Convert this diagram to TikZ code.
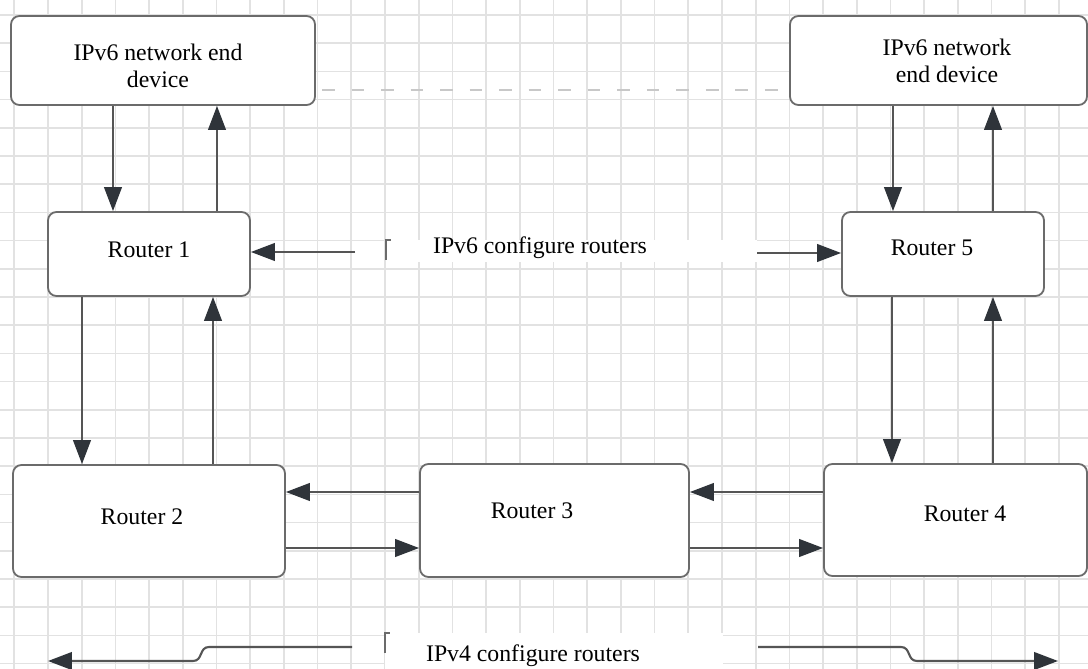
\documentclass[tikz,border=0pt]{standalone}
\usepackage{fontspec}
\setmainfont{Liberation Serif}
\usepackage{tikz}
\usetikzlibrary{arrows.meta,fit}
\definecolor{gridc}{HTML}{E2E2E2}
\definecolor{boxc}{HTML}{6B6B6B}
\definecolor{linec}{HTML}{555555}
\definecolor{headc}{HTML}{2F343A}
\definecolor{dashc}{HTML}{C8C8C8}
\tikzset{
  box/.style={draw=boxc, line width=1.3pt, rounded corners=6pt, fill=white, inner sep=0pt},
  lbl/.style={font=\rmfamily\fontsize{16.9}{19.5}\selectfont, align=center, inner sep=0pt},
  link/.style={draw=linec, line width=1.5pt, -{Triangle[length=17pt,width=12.5pt,color=headc]}},
  gridline/.style={gridc, line width=1.2pt},
  tick/.style={draw=boxc, line width=0.9pt},
}

\begin{document}
\begin{tikzpicture}[x=0.025cm,y=-0.025cm]
  \useasboundingbox[fill=white] (0,0) rectangle (1088,669);
  \foreach \i in {0,...,31} {\draw[gridline] ({14.3+33.7*\i},0) -- ({14.3+33.7*\i},669);}
  \foreach \j in {0,...,23} {\draw[gridline] (0,{15+28.2*\j}) -- (1088,{15+28.2*\j});}
  \fill[white] (386,240) rectangle (757,262);
  \fill[white] (385,633) rectangle (723,669);
  \draw[tick] (386,260) -- (386,240) -- (391,240);
  \draw[tick] (385,653) -- (385,633) -- (390,633);

  \node[box, fit={(11,16) (315,105)}] (dev1) {};
  \node[box, fit={(790,16) (1087,105)}] (dev2) {};
  \node[box, fit={(48,212) (250,296)}] (r1) {};
  \node[box, fit={(842,212) (1044,296)}] (r5) {};
  \node[box, fit={(13,465) (285,577)}] (r2) {};
  \node[box, fit={(420,464) (689,577)}] (r3) {};
  \node[box, fit={(824,464) (1087,576)}] (r4) {};

  \node[lbl] (dev1txt) at (158,66) {IPv6 network end\\device};
  \node[lbl] (dev2txt) at (947,61) {IPv6 network\\end device};
  \node[lbl] (r1txt) at (149,250) {Router 1};
  \node[lbl] (r2txt) at (142,517) {Router 2};
  \node[lbl] (r3txt) at (532,511) {Router 3};
  \node[lbl] (r4txt) at (965,514) {Router 4};
  \node[lbl] (r5txt) at (932,248) {Router 5};
  \node[lbl] (v6txt) at (540,248) {IPv6 configure routers};
  \node[lbl] (v4txt) at (533,656) {IPv4 configure routers};

  \draw[dashc, line width=1.3pt, dash pattern=on 9pt off 12pt] (322,0 |- 0,90) -- (dev2.west |- 0,90);

  \draw[link] (113,0 |- dev1.south) -- (113,0 |- r1.north);
  \draw[link] (217,0 |- r1.north) -- (217,0 |- dev1.south);
  \draw[link] (893,0 |- dev2.south) -- (893,0 |- r5.north);
  \draw[link] (993,0 |- r5.north) -- (993,0 |- dev2.south);
  \draw[link] (82,0 |- r1.south) -- (82,0 |- r2.north);
  \draw[link] (213,0 |- r2.north) -- (213,0 |- r1.south);
  \draw[link] (892,0 |- r5.south) -- (892,0 |- r4.north);
  \draw[link] (993,0 |- r4.north) -- (993,0 |- r5.south);

  \draw[link] (r3.west |- 0,492) -- (r2.east |- 0,492);
  \draw[link] (r2.east |- 0,548) -- (r3.west |- 0,548);
  \draw[link] (r4.west |- 0,492) -- (r3.east |- 0,492);
  \draw[link] (r3.east |- 0,548) -- (r4.west |- 0,548);

  \coordinate (v6l) at (355,252);
  \coordinate (v6r) at (757,253);
  \draw[link] (v6l) -- (r1.east |- v6l);
  \draw[link] (v6r) -- (r5.west |- v6r);

  \coordinate (v4l) at (352,647);
  \coordinate (v4lend) at (48,661);
  \coordinate (v4r) at (758,647);
  \coordinate (v4rend) at (1058,661);
  \draw[link] (v4l) -- (209,647) .. controls (199,647) and (203,661) .. (193,661) -- (v4lend);
  \draw[link] (v4r) -- (901,647) .. controls (911,647) and (907,661) .. (917,661) -- (v4rend);
\end{tikzpicture}
\end{document}
